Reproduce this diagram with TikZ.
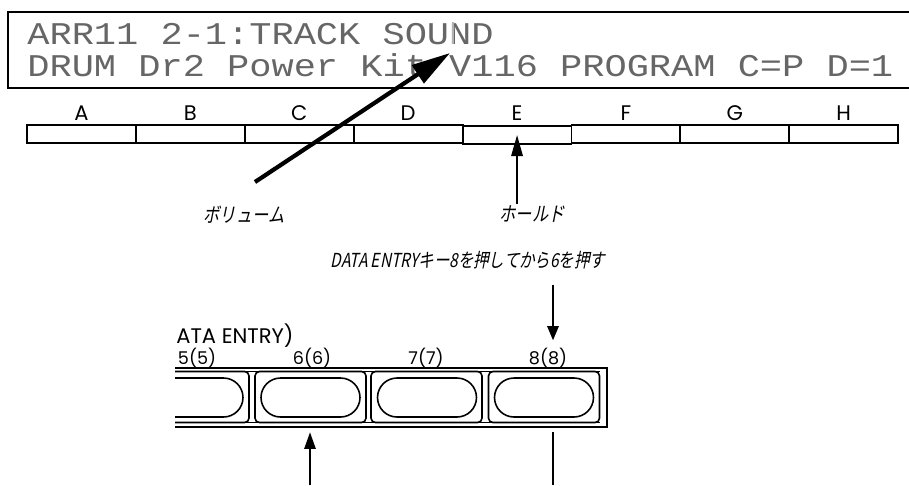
\documentclass[tikz,border=0pt]{standalone}
\usepackage{fontspec}
\usepackage{tikz}
\usetikzlibrary{arrows.meta, positioning, shapes.misc}
\newfontfamily\lcdfont[FakeStretch=1.17]{Liberation Mono}
\newfontfamily\keyfont{Poppins}
\newfontfamily\jpfont[FakeSlant=0.2, FakeStretch=0.8]{Noto Sans CJK JP}
\definecolor{lcdgray}{gray}{0.4}

\begin{document}
\begin{tikzpicture}[x=0.02cm, y=-0.02cm,
    lcdtxt/.style={font=\lcdfont\fontsize{18}{18}\selectfont, text=lcdgray,
                   anchor=base west, inner sep=0pt},
    fkey/.style={draw, line width=1.1pt, minimum width=2.178cm,
                 minimum height=0.36cm, inner sep=0pt},
    fkeylbl/.style={font=\keyfont\fontsize{12}{12}\selectfont, anchor=base, inner sep=0pt},
    jplbl/.style={font=\jpfont\fontsize{11.5}{11.5}\selectfont, inner sep=1pt},
    dkey/.style={draw, line width=0.9pt, rounded corners=2.5pt, minimum width=2.22cm,
                 minimum height=1.02cm, inner sep=0pt},
    pill/.style={draw, line width=0.9pt, rounded rectangle, minimum width=1.98cm,
                 minimum height=0.78cm, inner sep=0pt},
    dnum/.style={font=\keyfont\fontsize{10}{10}\selectfont, anchor=base, inner sep=0pt},
    volarr/.style={-{Triangle[length=22pt, width=12pt]}, line width=2.4pt},
    ptr/.style={-{Triangle[length=#1, width=6.5pt]}, line width=0.9pt},
]
    \useasboundingbox (0,0) rectangle (909,485);

    % LCD
    \draw[line width=1.2pt] (909,12) -- (8,12) -- (8,88) -- (909,88);
    \node[lcdtxt] (lcdA) at (27,44) {ARR11 2-1:TRACK SOUND};
    \node[lcdtxt] (lcdB) at (27,76) {DRUM Dr2 Power Kit V116 PROGRAM C=P D=1};
    \draw[lcdgray!50, line width=0.8pt] (453,22) -- (453,44);

    % Function keys
    \node[fkey] (kA) at (81.45,134) {};
    \node[fkey] (kB) at (190.35,134) {};
    \node[fkey] (kC) at (299.25,134) {};
    \node[fkey] (kD) at (408.15,134) {};
    \node[fkey] (kE) at (517.05,135) {};
    \node[fkey] (kF) at (625.95,134) {};
    \node[fkey] (kG) at (734.85,134) {};
    \node[fkey] (kH) at (843.75,134) {};
    \node[fkeylbl] (lA) at (81.45,120.5) {A};
    \node[fkeylbl] (lB) at (190.35,120.5) {B};
    \node[fkeylbl] (lC) at (299.25,120.5) {C};
    \node[fkeylbl] (lD) at (408.15,120.5) {D};
    \node[fkeylbl] (lE) at (517.05,120.5) {E};
    \node[fkeylbl] (lF) at (625.95,120.5) {F};
    \node[fkeylbl] (lG) at (734.85,120.5) {G};
    \node[fkeylbl] (lH) at (843.75,120.5) {H};

    % Callouts
    \node[jplbl] (vol) at (244,215) {ボリューム};
    \node[jplbl] (hold) at (532,214) {ホールド};
    \node[jplbl, font=\jpfont\fontsize{11}{11}\selectfont] (instr) at (468,260)
        {DATA ENTRYキー8を押してから6を押す};
    \coordinate (volTail) at (255,182);
    \coordinate (volTip) at (450,53);
    \draw[volarr] (volTail) -- (volTip);
    \draw[ptr=12pt, line width=1.1pt] (hold.north -| kE.center) -- (kE.center);

    % DATA ENTRY panel
    \node[font=\keyfont\fontsize{12}{12}\selectfont, anchor=base west, inner sep=0pt]
        (dtitle) at (176,343) {ATA ENTRY)};
    \draw[line width=0.9pt] (175,368) -- (607,368) -- (607,427) -- (175,427);
    \draw[line width=0.9pt] (175,371.5) -- (600,371.5);
    \draw[line width=0.9pt] (175,422.5) -- (600,422.5);
    \begin{scope}
        \clip (175,360) rectangle (620,430);
        \node[dkey] (d5) at (193.5,397) {};
        \node[pill] (p5) at (193.5,397.5) {};
    \end{scope}
    \node[dkey] (d6) at (310.5,397) {};
    \node[dkey] (d7) at (426.5,397) {};
    \node[dkey] (d8) at (544,397) {};
    \node[pill] (p6) at (310.5,397.5) {};
    \node[pill] (p7) at (427,397.5) {};
    \node[pill] (p8) at (544,397.5) {};
    \node[dnum] (n5) at (197,364) {5(5)};
    \node[dnum] (n6) at (312,364) {6(6)};
    \node[dnum] (n7) at (426,364) {7(7)};
    \node[dnum] (n8) at (548,364) {8(8)};

    \coordinate (up6) at (310,485);
    \coordinate (dn8) at (553,485);
    \draw[ptr=8pt, shorten <=0.28cm, shorten >=0.14cm] (instr.south -| dn8) -- (n8.north -| dn8);
    \draw[ptr=9.5pt, shorten >=0.18cm] (up6) -- (d6.south -| up6);
    \draw[line width=0.9pt, shorten <=0.18cm] (d8.south -| dn8) -- (dn8);
\end{tikzpicture}
\end{document}
